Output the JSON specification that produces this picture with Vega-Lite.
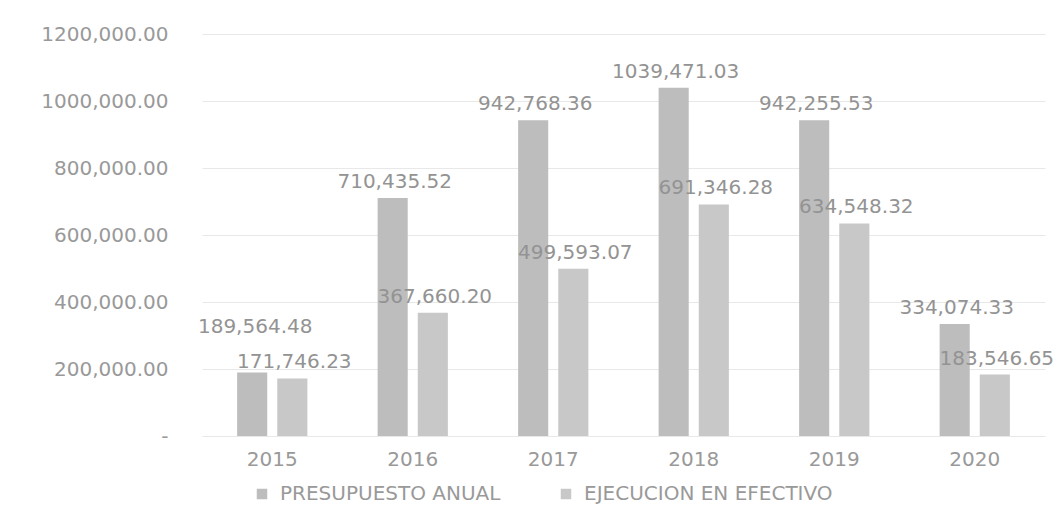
{
  "$schema": "https://vega.github.io/schema/vega-lite/v6.json",
  "width": 843,
  "height": 402,
  "autosize": {"type": "none"},
  "padding": {"left": 202, "top": 34, "right": 16, "bottom": 73},
  "background": "white",
  "data": {
    "values": [
      {"anio": "2015", "serie": "PRESUPUESTO ANUAL", "monto": 189564.48, "etiqueta": "189,564.48"},
      {"anio": "2015", "serie": "EJECUCION EN EFECTIVO", "monto": 171746.23, "etiqueta": "171,746.23"},
      {"anio": "2016", "serie": "PRESUPUESTO ANUAL", "monto": 710435.52, "etiqueta": "710,435.52"},
      {"anio": "2016", "serie": "EJECUCION EN EFECTIVO", "monto": 367660.20, "etiqueta": "367,660.20"},
      {"anio": "2017", "serie": "PRESUPUESTO ANUAL", "monto": 942768.36, "etiqueta": "942,768.36"},
      {"anio": "2017", "serie": "EJECUCION EN EFECTIVO", "monto": 499593.07, "etiqueta": "499,593.07"},
      {"anio": "2018", "serie": "PRESUPUESTO ANUAL", "monto": 1039471.03, "etiqueta": "1039,471.03"},
      {"anio": "2018", "serie": "EJECUCION EN EFECTIVO", "monto": 691346.28, "etiqueta": "691,346.28"},
      {"anio": "2019", "serie": "PRESUPUESTO ANUAL", "monto": 942255.53, "etiqueta": "942,255.53"},
      {"anio": "2019", "serie": "EJECUCION EN EFECTIVO", "monto": 634548.32, "etiqueta": "634,548.32"},
      {"anio": "2020", "serie": "PRESUPUESTO ANUAL", "monto": 334074.33, "etiqueta": "334,074.33"},
      {"anio": "2020", "serie": "EJECUCION EN EFECTIVO", "monto": 183546.65, "etiqueta": "183,546.65"}
    ]
  },
  "encoding": {
    "x": {
      "field": "anio",
      "type": "nominal",
      "title": null,
      "scale": {"paddingInner": 0.5, "paddingOuter": 0.25},
      "axis": {
        "labelAngle": 0,
        "labelPadding": 13,
        "domain": false,
        "ticks": false,
        "grid": false
      }
    },
    "xOffset": {
      "field": "serie",
      "type": "nominal",
      "sort": ["PRESUPUESTO ANUAL", "EJECUCION EN EFECTIVO"],
      "scale": {"paddingInner": 0.25, "paddingOuter": 0}
    },
    "y": {
      "field": "monto",
      "type": "quantitative",
      "title": null,
      "scale": {"domain": [0, 1200000], "nice": false},
      "axis": {
        "values": [0, 200000, 400000, 600000, 800000, 1000000, 1200000],
        "labelExpr": "datum.value == 0 ? '-' : format(datum.value / 1000, 'd') + ',000.00'",
        "labelPadding": 34,
        "domain": false,
        "ticks": false,
        "grid": true,
        "gridColor": "#e8e8e8",
        "gridWidth": 1
      }
    }
  },
  "layer": [
    {
      "mark": {"type": "bar"},
      "encoding": {
        "color": {
          "field": "serie",
          "type": "nominal",
          "title": null,
          "sort": ["PRESUPUESTO ANUAL", "EJECUCION EN EFECTIVO"],
          "scale": {
            "domain": ["PRESUPUESTO ANUAL", "EJECUCION EN EFECTIVO"],
            "range": ["#bdbdbd", "#c8c8c8"]
          }
        }
      }
    },
    {
      "transform": [{"filter": "!(datum.anio == '2015' && datum.serie == 'PRESUPUESTO ANUAL')"}],
      "mark": {"type": "text", "baseline": "alphabetic", "dy": -10, "dx": 2, "fontSize": 20, "color": "#939393"},
      "encoding": {"text": {"field": "etiqueta"}}
    },
    {
      "transform": [{"filter": "datum.anio == '2015' && datum.serie == 'PRESUPUESTO ANUAL'"}],
      "mark": {"type": "text", "baseline": "alphabetic", "dy": -39, "dx": 3, "fontSize": 20, "color": "#939393"},
      "encoding": {"text": {"field": "etiqueta"}}
    }
  ],
  "config": {
    "font": "DejaVu Sans",
    "view": {"stroke": null},
    "axis": {"labelFontSize": 20, "labelColor": "#999999", "labelFont": "DejaVu Sans"},
    "legend": {
      "orient": "none",
      "legendX": 50,
      "legendY": 450,
      "direction": "horizontal",
      "symbolType": "square",
      "symbolSize": 110,
      "symbolStrokeWidth": 0,
      "labelFontSize": 20,
      "labelColor": "#999999",
      "labelFont": "DejaVu Sans",
      "labelOffset": 8,
      "columnPadding": 55,
      "labelLimit": 400
    }
  }
}
